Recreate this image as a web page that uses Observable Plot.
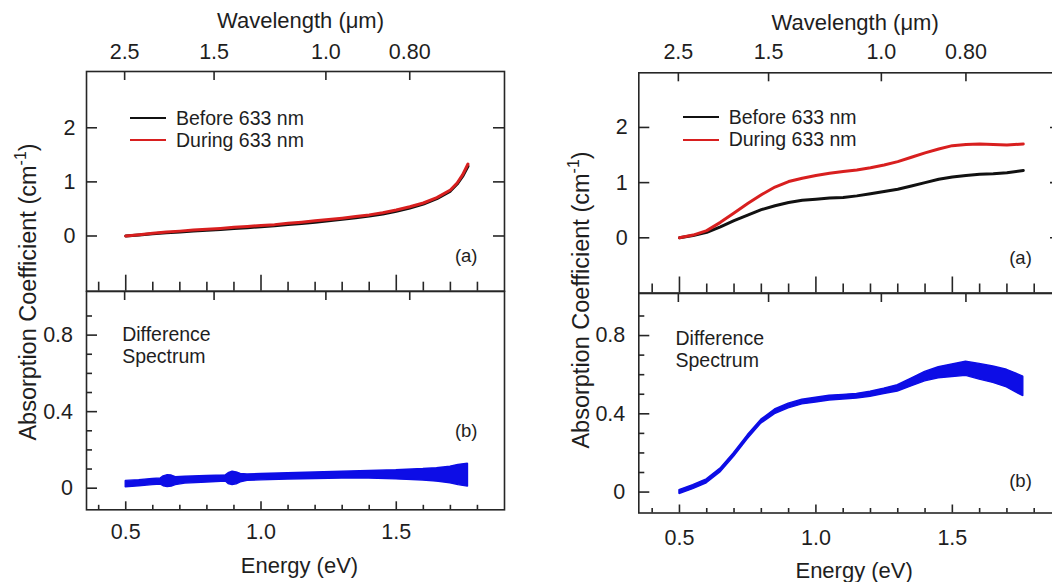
<!DOCTYPE html>
<html>
<head>
<meta charset="utf-8">
<script src="https://cdn.jsdelivr.net/npm/d3@7"></script>
<script src="https://cdn.jsdelivr.net/npm/@observablehq/plot@0.6"></script>
<style>
  html, body { margin: 0; padding: 0; background: #fff; }
  #root { position: relative; width: 1052px; height: 582px; overflow: hidden;
          font-family: "Liberation Sans", Arial, sans-serif; color: #1e1e1e; }
  #root > .p { position: absolute; }
  .ylab { position: absolute; transform: translate(-50%, -50%) rotate(-90deg);
          white-space: nowrap; font-size: 23.5px; color: #1e1e1e; }
  .ylab sup { font-size: 0.68em; line-height: 0; vertical-align: 0.6em; }
  .legend { position: absolute; font-size: 19.5px; line-height: 22.4px; color: #1e1e1e; }
  .legend .row { display: flex; align-items: center; height: 22.4px; }
  .legend .sw { width: 36px; height: 0; border-top: 2px solid; margin-right: 10px; }
</style>
</head>
<body>
<div id="root"></div>
<script>
// ---------- tick values & labels ----------
const HC = 1.23984; // eV·µm, converts wavelength to photon energy
const wavelengthTicks = [2.5, 1.5, 1.0, 0.8];
const wavelengthLabels = ["2.5", "1.5", "1.0", "0.80"];
const energyMajor = [0.5, 1.0, 1.5];
const energyMinor = [0.4, 0.6, 0.7, 0.8, 0.9, 1.1, 1.2, 1.3, 1.4, 1.6, 1.7, 1.8];
const absTicks = [0, 1, 2];
const diffMajor = [0, 0.4, 0.8];
const diffMinor = [0.1, 0.2, 0.3, 0.5, 0.6, 0.7, 0.9];
const seriesNames = ["Before 633 nm", "During 633 nm"];

// ---------- left panel data ----------
const energyL = [0.50,0.55,0.60,0.65,0.70,0.75,0.80,0.85,0.90,0.95,1.00,1.05,1.10,1.15,1.20,1.25,1.30,1.35,1.40,1.45,1.50,1.55,1.60,1.65,1.70,1.725,1.745,1.765];
const beforeL = [0.000,0.020,0.042,0.062,0.076,0.093,0.106,0.120,0.138,0.152,0.172,0.188,0.212,0.232,0.256,0.282,0.308,0.338,0.368,0.408,0.458,0.518,0.588,0.690,0.830,0.960,1.100,1.290];
const duringL = [0.000,0.025,0.050,0.075,0.090,0.110,0.125,0.140,0.160,0.175,0.195,0.210,0.235,0.255,0.280,0.305,0.330,0.360,0.390,0.430,0.480,0.540,0.610,0.710,0.850,0.980,1.130,1.330];

const diffEnergyL = [0.50,0.55,0.60,0.63,0.64,0.655,0.67,0.685,0.72,0.80,0.87,0.88,0.895,0.91,0.925,0.95,1.00,1.10,1.20,1.30,1.40,1.50,1.60,1.65,1.70,1.73,1.765];
const diffLoL = [0.004,0.010,0.016,0.019,0.010,0.006,0.008,0.016,0.024,0.030,0.035,0.022,0.016,0.020,0.030,0.039,0.041,0.045,0.048,0.050,0.050,0.046,0.040,0.034,0.026,0.016,0.008];
const diffHiL = [0.038,0.042,0.048,0.051,0.062,0.068,0.066,0.058,0.060,0.064,0.067,0.078,0.086,0.082,0.074,0.072,0.074,0.078,0.082,0.086,0.090,0.094,0.100,0.104,0.112,0.122,0.128];

// ---------- right panel data ----------
const energyR = [0.50,0.55,0.60,0.65,0.70,0.75,0.80,0.85,0.90,0.95,1.00,1.05,1.10,1.15,1.20,1.25,1.30,1.35,1.40,1.45,1.50,1.55,1.60,1.65,1.70,1.76];
const beforeR = [0.00,0.04,0.10,0.20,0.31,0.41,0.51,0.58,0.64,0.68,0.70,0.72,0.73,0.76,0.80,0.84,0.88,0.94,1.00,1.06,1.10,1.13,1.15,1.16,1.18,1.22];
const duringR = [0.00,0.05,0.13,0.28,0.45,0.62,0.78,0.92,1.02,1.08,1.13,1.17,1.20,1.23,1.27,1.32,1.38,1.46,1.54,1.61,1.67,1.69,1.70,1.69,1.68,1.70];

const diffEnergyR = [0.50,0.55,0.60,0.65,0.70,0.75,0.80,0.85,0.90,0.95,1.00,1.05,1.10,1.15,1.20,1.25,1.30,1.35,1.40,1.45,1.50,1.55,1.60,1.65,1.70,1.73,1.76];
const diffLoR = [-0.010,0.015,0.045,0.100,0.180,0.270,0.350,0.398,0.428,0.448,0.458,0.468,0.473,0.478,0.487,0.501,0.514,0.540,0.566,0.582,0.588,0.594,0.575,0.558,0.535,0.512,0.490];
const diffHiR = [0.010,0.035,0.065,0.120,0.200,0.290,0.370,0.422,0.452,0.472,0.482,0.492,0.497,0.502,0.513,0.529,0.546,0.580,0.614,0.638,0.652,0.666,0.655,0.642,0.625,0.608,0.590];

// ---------- styling ----------
const INK = "#262626";
const TXT = "#1e1e1e";
const BLACK = "#111";
const RED = "#d81f1f";
const BLUE = "#0d0de6";
const FONT = "'Liberation Sans', Arial, sans-serif";
const TICK_FS = 21.5;

const root = document.getElementById("root");

function place(node, left, top, width) {
  const d = document.createElement("div");
  d.className = "p";
  d.style.left = left + "px";
  d.style.top = top + "px";
  d.style.width = width + "px";
  d.appendChild(node);
  root.appendChild(d);
}

function panel(cfg) {
  const { ox, fl, fr, ft, fs, fb, xDomain, yTop, yBot, energy, before, during,
          dE, dLo, dHi, lab } = cfg;
  const W = Math.ceil(fr - ox + 12);
  const mL = fl - ox, mR = W - (fr - ox);
  const topH = fs - ft;          // frame height of (a)
  const botH = fb - fs;          // frame height of (b)
  const frameW = fr - fl;
  const style = { fontFamily: FONT, background: "transparent", overflow: "visible", maxWidth: "none" };
  const T = { fill: TXT, lineAnchor: "middle" };

  const rowsA = energy.flatMap((e, i) => [
    { e, v: before[i], s: seriesNames[0] },
    { e, v: during[i], s: seriesNames[1] }
  ]);
  const rowsB = dE.map((e, i) => ({ e, lo: dLo[i], hi: dHi[i] }));

  // ----- top subplot (a) -----
  const top = Plot.plot({
    width: W, height: fs + 2,
    marginLeft: mL, marginRight: mR, marginTop: ft, marginBottom: 2,
    x: { domain: xDomain, axis: null },
    y: { domain: yTop, axis: null },
    style,
    marks: [
      Plot.line(rowsA.filter(d => d.s === seriesNames[0]), { x: "e", y: "v", stroke: BLACK, strokeWidth: 3 }),
      Plot.line(rowsA.filter(d => d.s === seriesNames[1]), { x: "e", y: "v", stroke: RED, strokeWidth: 3 }),
      Plot.frame({ stroke: INK, strokeWidth: 1.6 }),
      // wavelength axis on top (ticks inward)
      Plot.ruleX(wavelengthTicks, { x: d => HC / d, insetBottom: topH - 9, stroke: INK, strokeWidth: 1.6 }),
      Plot.text(wavelengthTicks, { x: d => HC / d, text: (d, i) => wavelengthLabels[i], frameAnchor: "top", dy: lab.wlDy, fontSize: TICK_FS, ...T }),
      Plot.text(["Wavelength (\u03BCm)"], { frameAnchor: "top", dy: lab.wlTitleDy, dx: lab.titleDx, fontSize: 22, ...T }),
      // energy ticks along the shared edge (pointing up)
      Plot.ruleX(energyMinor, { x: d => d, insetTop: topH - 9, stroke: INK, strokeWidth: 1.6 }),
      Plot.ruleX(energyMajor, { x: d => d, insetTop: topH - 16, stroke: INK, strokeWidth: 1.6 }),
      // y ticks left & right
      Plot.ruleY(absTicks, { y: d => d, insetRight: frameW - 11, stroke: INK, strokeWidth: 1.6 }),
      Plot.ruleY(absTicks, { y: d => d, insetLeft: frameW - 11, stroke: INK, strokeWidth: 1.6 }),
      Plot.text(absTicks, { y: d => d, text: d => String(d), frameAnchor: "left", dx: -11, textAnchor: "end", fontSize: TICK_FS, ...T }),
      Plot.text(["(a)"], { frameAnchor: "bottom-right", dx: lab.tagDx, dy: lab.aDy, textAnchor: "middle", fontSize: 18.5, ...T })
    ]
  });
  place(top, ox, 0, W);

  // ----- bottom subplot (b) -----
  const bot = Plot.plot({
    width: W, height: 584 - fs,
    marginLeft: mL, marginRight: mR, marginTop: 2, marginBottom: 582 - fb,
    x: { domain: xDomain, axis: null },
    y: { domain: yBot, axis: null },
    style,
    marks: [
      Plot.areaY(rowsB, { x: "e", y1: "lo", y2: "hi", fill: BLUE, stroke: BLUE, strokeWidth: 1.4, strokeLinejoin: "miter" }),
      Plot.frame({ stroke: INK, strokeWidth: 1.6 }),
      // wavelength ticks on the shared edge (pointing down)
      Plot.ruleX(wavelengthTicks, { x: d => HC / d, insetBottom: botH - 9, stroke: INK, strokeWidth: 1.6 }),
      // energy axis at bottom
      Plot.ruleX(energyMinor, { x: d => d, insetTop: botH - 4.5, stroke: INK, strokeWidth: 1.6 }),
      Plot.ruleX(energyMajor, { x: d => d, insetTop: botH - 8, stroke: INK, strokeWidth: 1.6 }),
      Plot.text(energyMajor, { x: d => d, text: d => d.toFixed(1), frameAnchor: "bottom", dy: lab.eDy, fontSize: TICK_FS, ...T }),
      Plot.text(["Energy (eV)"], { frameAnchor: "bottom", dy: lab.eTitleDy, dx: lab.titleDx - 1, fontSize: 22, ...T }),
      // y ticks
      Plot.ruleY(diffMinor, { y: d => d, insetRight: frameW - 6, stroke: INK, strokeWidth: 1.6 }),
      Plot.ruleY(diffMajor, { y: d => d, insetRight: frameW - 11, stroke: INK, strokeWidth: 1.6 }),
      Plot.text(diffMajor, { y: d => d, text: d => (d === 0 ? "0" : String(d)), frameAnchor: "left", dx: -13.5, textAnchor: "end", fontSize: TICK_FS, ...T }),
      Plot.text(["Difference"], { frameAnchor: "top-left", dx: lab.diffDx, dy: lab.diffDy, textAnchor: "start", fontSize: 19.5, ...T }),
      Plot.text(["Spectrum"], { frameAnchor: "top-left", dx: lab.diffDx, dy: lab.diffDy + 22, textAnchor: "start", fontSize: 19.5, ...T }),
      Plot.text(["(b)"], { frameAnchor: "top-right", dx: lab.tagDx, dy: lab.bDy, textAnchor: "middle", fontSize: 18.5, ...T })
    ]
  });
  place(bot, ox, fs - 2, W);

  // ----- y-axis title (spans both subplots) -----
  const yl = document.createElement("div");
  yl.className = "ylab";
  yl.style.left = lab.yLabX + "px";
  yl.style.top = lab.yLabY + "px";
  yl.innerHTML = "Absorption Coefficient (cm<sup>-1</sup>)";
  root.appendChild(yl);

  // ----- legend -----
  const lg = document.createElement("div");
  lg.className = "legend";
  lg.style.left = lab.legX + "px";
  lg.style.top = lab.legY + "px";
  [[seriesNames[0], BLACK], [seriesNames[1], RED]].forEach(([name, c]) => {
    const r = document.createElement("div");
    r.className = "row";
    const sw = document.createElement("span");
    sw.className = "sw";
    sw.style.borderTopColor = c;
    const t = document.createElement("span");
    t.textContent = name;
    r.appendChild(sw); r.appendChild(t);
    lg.appendChild(r);
  });
  root.appendChild(lg);
}

panel({
  ox: 0, fl: 86, fr: 504, ft: 71, fs: 290.7, fb: 509,
  xDomain: [0.355, 1.9], yTop: [-1.02, 3.04], yBot: [-0.113, 1.028],
  energy: energyL, before: beforeL, during: duringL,
  dE: diffEnergyL, dLo: diffLoL, dHi: diffHiL,
  lab: { wlDy: -19.3, wlTitleDy: -50.3, titleDx: 5, tagDx: -38.3, aDy: -34.7, eDy: 22.7, eTitleDy: 56,
         diffDx: 35.7, diffDy: 43.6, bDy: 140, yLabX: 28, yLabY: 291.5, legX: 130, legY: 106.5 }
});

panel({
  ox: 530, fl: 638.3, fr: 1061, ft: 72.3, fs: 292.5, fb: 512,
  xDomain: [0.351, 1.9], yTop: [-1.0, 2.99], yBot: [-0.107, 1.015],
  energy: energyR, before: beforeR, during: duringR,
  dE: diffEnergyR, dLo: diffLoR, dHi: diffHiR,
  lab: { wlDy: -20.6, wlTitleDy: -50.3, titleDx: 5, tagDx: -41, aDy: -34.5, eDy: 24.7, eTitleDy: 58,
         diffDx: 36.7, diffDy: 44.8, bDy: 187.5, yLabX: 581, yLabY: 300, legX: 682.7, legY: 106.1 }
});
</script>
</body>
</html>
